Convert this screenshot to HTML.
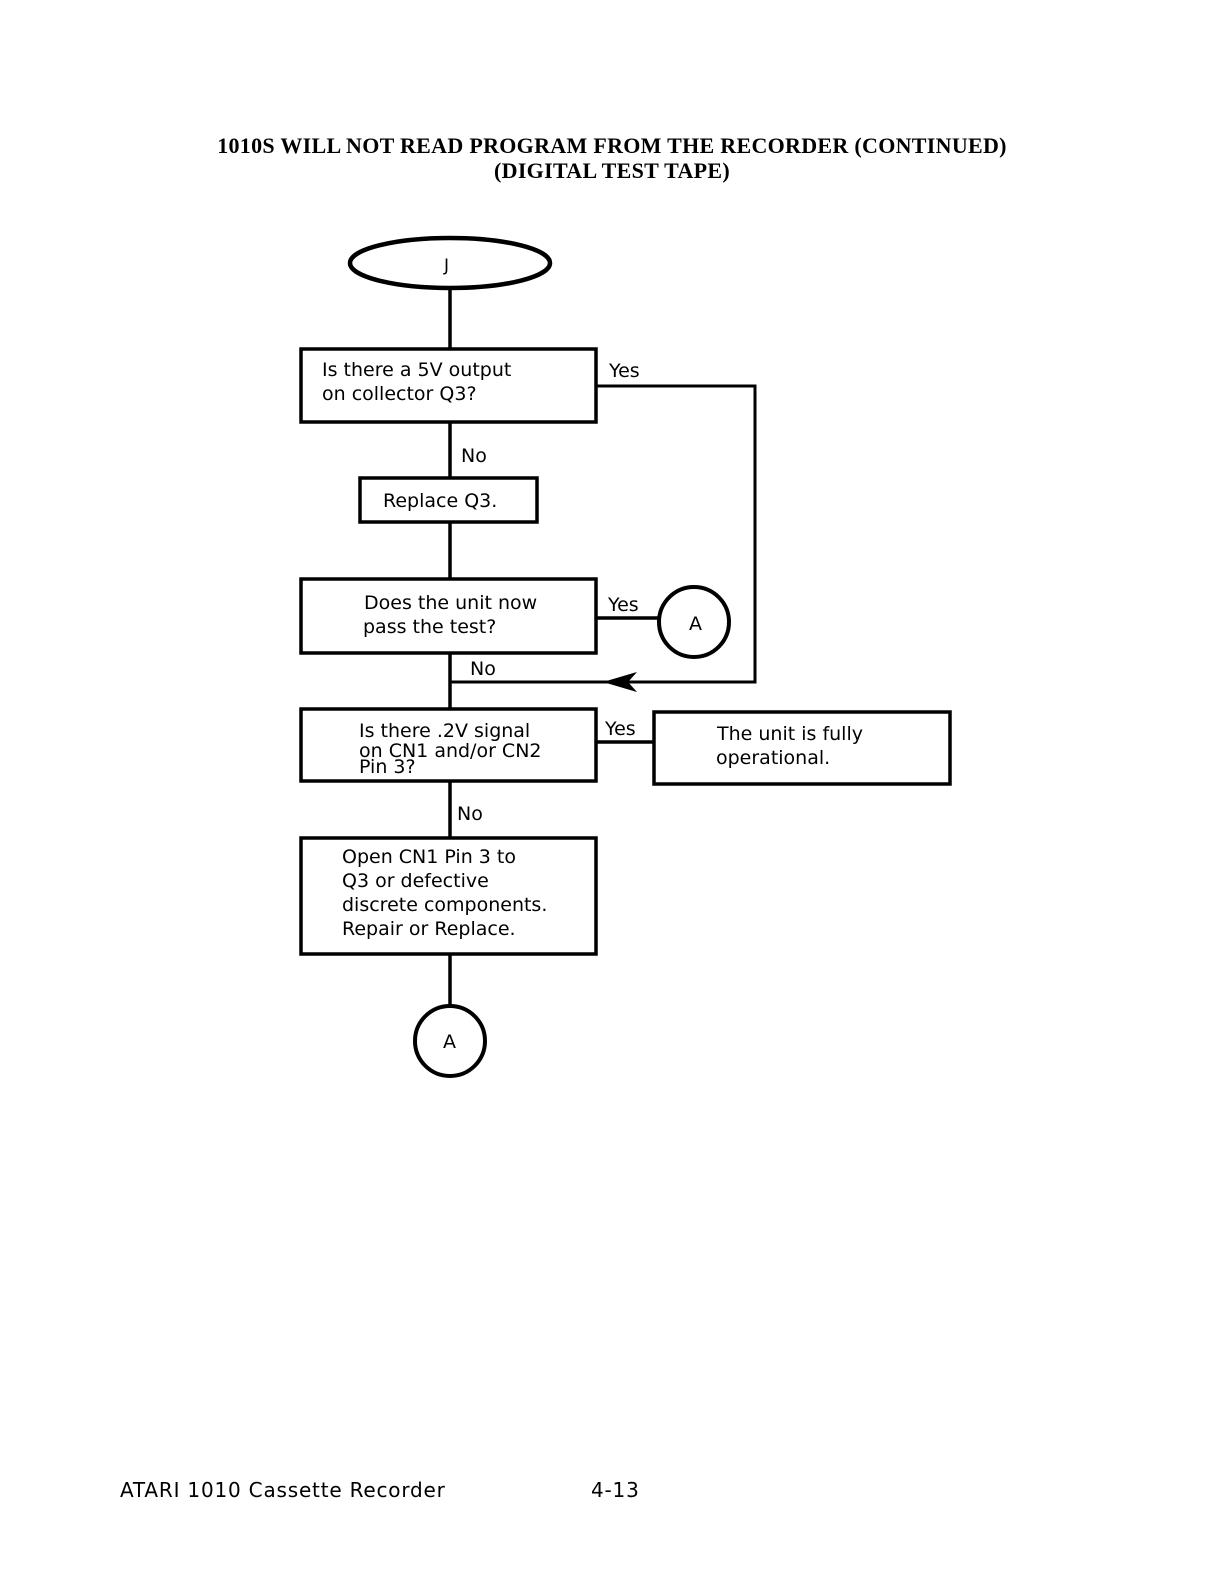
<!DOCTYPE html>
<html><head><meta charset="utf-8"><style>
html,body{margin:0;padding:0;background:#fff}
</style></head><body>
<svg width="1220" height="1584" viewBox="0 0 1220 1584" xmlns="http://www.w3.org/2000/svg">
<rect width="1220" height="1584" fill="#fff"/>
<g font-family="Liberation Serif, serif" font-weight="bold" font-size="22" text-anchor="middle" fill="#000" letter-spacing="0.3">
<text x="612" y="153">1010S WILL NOT READ PROGRAM FROM THE RECORDER (CONTINUED)</text>
<text x="612" y="178">(DIGITAL TEST TAPE)</text>
</g>
<g stroke="#000" fill="none" stroke-width="3.5">
<ellipse cx="450" cy="263" rx="100" ry="25" stroke-width="4.5"/>
<line x1="450" y1="288" x2="450" y2="348"/>
<rect x="301" y="349" width="295" height="73"/>
<polyline points="597,386 755,386 755,682 450,682" stroke-width="3"/>
<line x1="450" y1="423" x2="450" y2="477"/>
<rect x="360" y="478" width="177" height="44"/>
<line x1="450" y1="523" x2="450" y2="578"/>
<rect x="301" y="579" width="295" height="74"/>
<line x1="597" y1="618" x2="658" y2="618"/>
<circle cx="694" cy="622" r="35" stroke-width="4"/>
<line x1="450" y1="654" x2="450" y2="708"/>
<rect x="301" y="709" width="295" height="72"/>
<line x1="597" y1="742" x2="653" y2="742"/>
<rect x="654" y="712" width="296" height="72"/>
<line x1="450" y1="782" x2="450" y2="837"/>
<rect x="301" y="838" width="295" height="116"/>
<line x1="450" y1="955" x2="450" y2="1007"/>
<circle cx="450" cy="1041" r="35" stroke-width="4"/>
</g>
<polygon points="603,682 637,672 628,682 637,692" fill="#000"/>
<g font-family="DejaVu Sans, Liberation Sans, sans-serif" font-size="19" fill="#000">
<text x="444" y="271" font-size="17">J</text>
<text x="322" y="376">Is there a 5V output</text>
<text x="322" y="400">on collector Q3?</text>
<text x="609" y="377">Yes</text>
<text x="461" y="462">No</text>
<text x="383" y="507">Replace Q3.</text>
<text x="364" y="609">Does the unit now</text>
<text x="363" y="633">pass the test?</text>
<text x="608" y="611">Yes</text>
<text x="689" y="630">A</text>
<text x="470" y="675">No</text>
<text x="359" y="737">Is there .2V signal</text>
<text x="359" y="757">on CN1 and/or CN2</text>
<text x="359" y="773">Pin 3?</text>
<text x="605" y="735">Yes</text>
<text x="717" y="740">The unit is fully</text>
<text x="716" y="764">operational.</text>
<text x="457" y="820">No</text>
<text x="342" y="863">Open CN1 Pin 3 to</text>
<text x="342" y="887">Q3 or defective</text>
<text x="342" y="911">discrete components.</text>
<text x="342" y="935">Repair or Replace.</text>
<text x="443" y="1048">A</text>
<text x="120" y="1497" font-size="20" letter-spacing="0.8">ATARI 1010 Cassette Recorder</text>
<text x="591" y="1497" font-size="20" letter-spacing="0.8">4-13</text>
</g>
</svg>
</body></html>
